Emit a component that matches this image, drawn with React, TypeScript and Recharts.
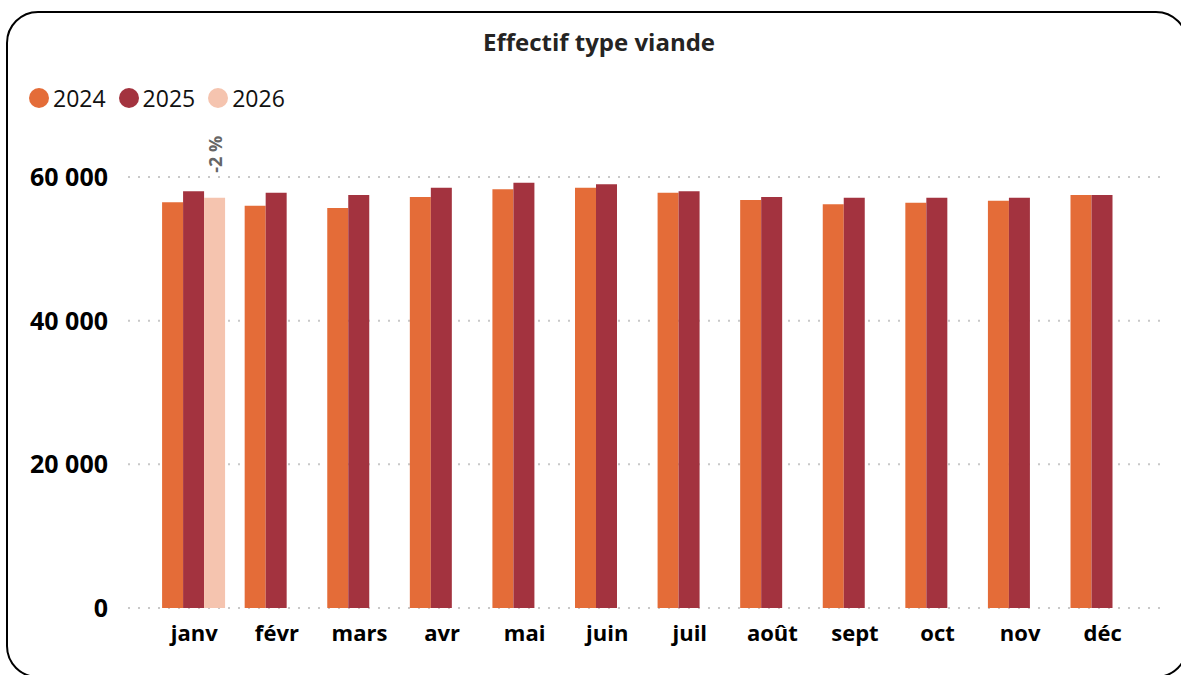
import React from "react";
import { BarChart, Bar, XAxis, YAxis, CartesianGrid, LabelList } from "recharts";

const months = ["janv", "févr", "mars", "avr", "mai", "juin", "juil", "août", "sept", "oct", "nov", "déc"];
const values2024 = [56500, 56000, 55700, 57200, 58300, 58500, 57800, 56800, 56200, 56400, 56700, 57500];
const values2025 = [58000, 57800, 57500, 58500, 59200, 59000, 58000, 57200, 57100, 57100, 57100, 57500];
const values2026: (number | null)[] = [57100, null, null, null, null, null, null, null, null, null, null, null];
const labels2026: (string | null)[] = ["-2 %", null, null, null, null, null, null, null, null, null, null, null];
const yTicks = [0, 20000, 40000, 60000];
const seriesNames = ["2024", "2025", "2026"];
const colors = ["#E46C38", "#A3333F", "#F5C4AF"];

const data = months.map((m, i) => ({
  month: m,
  v2024: values2024[i],
  v2025: values2025[i],
  v2026: values2026[i],
  lbl: labels2026[i],
}));

const FONT = "'Open Sans', 'Noto Sans', sans-serif";

const fmt = (v: number) => {
  const s = String(Math.round(v));
  return s.replace(/\B(?=(\d{3})+(?!\d))/g, " ");
};

const VarLabel = (props: any) => {
  const { x, y, width, value } = props;
  if (!value) return null;
  const cx = x + width / 2;
  const ty = y - 25;
  return (
    <text
      x={cx}
      y={ty}
      transform={`rotate(-90, ${cx}, ${ty})`}
      textAnchor="start"
      dominantBaseline="central"
      fill="#666666"
      fontFamily={FONT}
      fontWeight={700}
      fontSize={18}
    >
      {value}
    </text>
  );
};

export default function App() {
  return (
    <div style={{ position: "fixed", left: 0, top: 0, width: 1181, height: 675, overflow: "hidden", background: "#fff" }}>
      <div
        style={{
          position: "absolute",
          left: 6,
          top: 11,
          width: 1182,
          height: 667,
          border: "2px solid #000",
          borderRadius: 32,
          boxSizing: "border-box",
        }}
      />
      <div
        style={{
          position: "absolute",
          left: 0,
          width: 1198,
          top: 26,
          textAlign: "center",
          fontFamily: FONT,
          fontWeight: 700,
          fontSize: 24,
          color: "#252423",
          lineHeight: "32px",
        }}
      >
        Effectif type viande
      </div>
      <div style={{ position: "absolute", left: 29, top: 85, display: "flex", alignItems: "center", fontFamily: FONT, fontSize: 23, color: "#111" }}>
        {seriesNames.map((n, i) => (
          <div key={n} style={{ display: "flex", alignItems: "center", marginRight: 13 }}>
            <div style={{ width: 20, height: 20, borderRadius: 10, background: colors[i], marginRight: 4 }} />
            <span style={{ lineHeight: "26px" }}>{n}</span>
          </div>
        ))}
      </div>
      <div style={{ position: "absolute", left: 0, top: 0 }}>
        <BarChart
          width={1181}
          height={675}
          data={data}
          margin={{ top: 177, right: 21, bottom: 67 - 30, left: 8 }}
          barCategoryGap="11%"
          barGap={0}
        >
          <CartesianGrid vertical={false} stroke="#c8c8c8" strokeWidth={2} strokeDasharray="2 8" />
          <XAxis
            dataKey="month"
            axisLine={false}
            tickLine={false}
            tickMargin={11}
            height={30}
            padding={{ left: 25, right: 16 }}
            interval={0}
            tick={{ fontFamily: FONT, fontWeight: 700, fontSize: 22, fill: "#000" }}
          />
          <YAxis
            width={120}
            domain={[0, 60000]}
            ticks={yTicks}
            axisLine={false}
            tickLine={false}
            tickMargin={14}
            tickFormatter={fmt}
            allowDataOverflow
            tick={{ fontFamily: FONT, fontWeight: 700, fontSize: 25, fill: "#000" }}
          />
          <Bar dataKey="v2024" fill={colors[0]} isAnimationActive={false} />
          <Bar dataKey="v2025" fill={colors[1]} isAnimationActive={false} />
          <Bar dataKey="v2026" fill={colors[2]} isAnimationActive={false}>
            <LabelList dataKey="lbl" content={VarLabel} />
          </Bar>
        </BarChart>
      </div>
    </div>
  );
}
